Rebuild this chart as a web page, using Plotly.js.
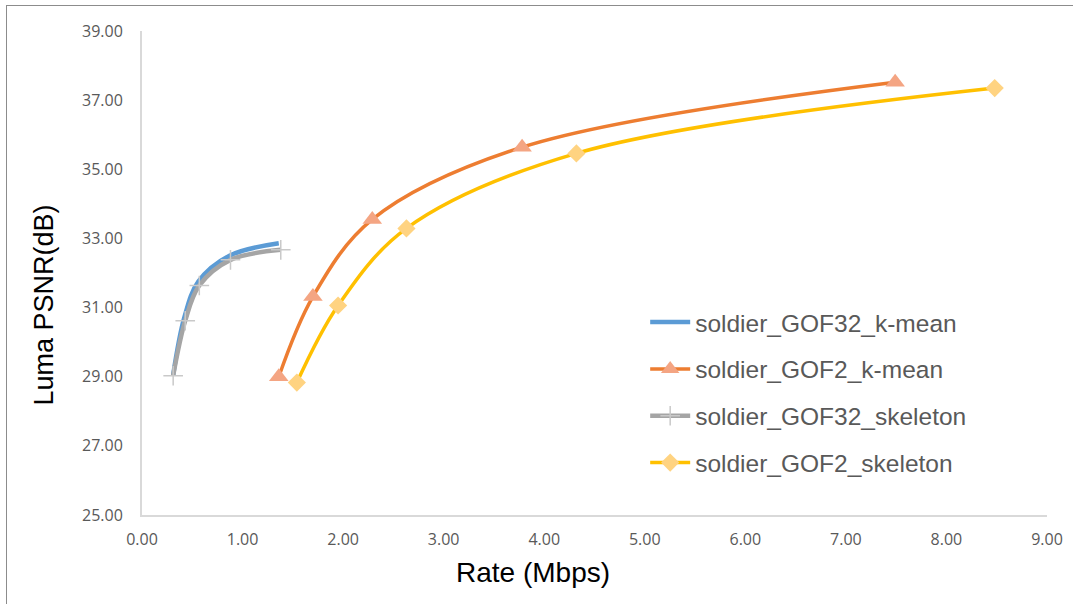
<!DOCTYPE html>
<html>
<head>
<meta charset="utf-8">
<script src="https://cdn.plot.ly/plotly-3.0.1.min.js"></script>
<style>
html,body{margin:0;padding:0;background:#fff;}
#wrap{position:relative;width:1073px;height:604px;overflow:hidden;}
#chart{position:absolute;left:0;top:0;width:1073px;height:604px;}
#frame{position:absolute;left:6px;top:5px;width:1100px;height:700px;border-left:1px solid #8c8c8c;border-top:1px solid #8c8c8c;pointer-events:none;}
</style>
</head>
<body>
<div id="wrap"><div id="chart"></div><div id="frame"></div></div>
<script>
// Series names
var seriesNames = ["soldier_GOF32_k-mean", "soldier_GOF2_k-mean", "soldier_GOF32_skeleton", "soldier_GOF2_skeleton"];

// Rate (Mbps)
var rateGOF32kmean = [0.31, 0.42, 0.56, 0.87, 1.36];
var rateGOF2kmean = [1.36, 1.70, 2.29, 3.78, 7.49];
var rateGOF32skel = [0.31, 0.43, 0.57, 0.88, 1.38];
var rateGOF2skel = [1.54, 1.95, 2.63, 4.32, 8.48];

// Luma PSNR (dB)
var psnrGOF32kmean = [29.05, 30.70, 31.75, 32.50, 32.86];
var psnrGOF2kmean = [29.00, 31.32, 33.55, 35.64, 37.52];
var psnrGOF32skel = [29.03, 30.62, 31.64, 32.38, 32.67];
var psnrGOF2skel = [28.83, 31.06, 33.29, 35.46, 37.35];

// Axis ticks and titles
var xTicks = [0,1,2,3,4,5,6,7,8,9];
var yTicks = [25,27,29,31,33,35,37,39];
var xTitle = "Rate (Mbps)";
var yTitle = "Luma PSNR(dB)";

var traces = [
  {x: rateGOF32kmean, y: psnrGOF32kmean, name: seriesNames[0], legendgroup: "a", mode: "lines",
   line: {color: "#5B9BD5", width: 4.5, shape: "spline", smoothing: 1}},
  {x: rateGOF2kmean, y: psnrGOF2kmean, name: seriesNames[1], legendgroup: "b", mode: "lines+markers",
   line: {color: "#ED7D31", width: 3.5, shape: "spline", smoothing: 1},
   marker: {symbol: "triangle-up", size: 17, color: "#F4A583"}},
  {x: rateGOF32skel, y: psnrGOF32skel, name: seriesNames[2], legendgroup: "c", mode: "lines+markers",
   line: {color: "#A5A5A5", width: 4.5, shape: "spline", smoothing: 1},
   marker: {symbol: "cross-thin", size: 14, line: {color: "#C9C9C9", width: 1.5}, color: "#C9C9C9"}},
  {x: rateGOF2skel, y: psnrGOF2skel, name: seriesNames[3], legendgroup: "d", mode: "lines+markers",
   line: {color: "#FFC000", width: 3.5, shape: "spline", smoothing: 1},
   marker: {symbol: "diamond", size: 14, color: "#FFD381"}}
];

var tickFont = {family: "Open Sans, DejaVu Sans, sans-serif", size: 16, color: "#595959"};
var titleFont = {family: "Liberation Sans, Arial, sans-serif", color: "#000000"};

var layout = {
  width: 1073, height: 604,
  margin: {l: 142, r: 26, t: 31, b: 89},
  paper_bgcolor: "#ffffff", plot_bgcolor: "#ffffff",
  showlegend: true,
  legend: {x: 0.556, y: 0.445, xanchor: "left", yanchor: "top",
    font: {family: "Liberation Sans, Arial, sans-serif", size: 24.5, color: "#595959"},
    traceorder: "grouped", tracegroupgap: 12, itemwidth: 40, bgcolor: "rgba(0,0,0,0)"},
  xaxis: {range: [0, 9], tickvals: xTicks, ticktext: xTicks.map(function(v){return v.toFixed(2);}),
    showgrid: false, zeroline: false, showline: true, linecolor: "#D9D9D9", linewidth: 2,
    ticks: "outside", ticklen: 9, tickcolor: "rgba(0,0,0,0)", tickfont: tickFont},
  yaxis: {range: [25, 39], tickvals: yTicks, ticktext: yTicks.map(function(v){return v.toFixed(2);}),
    showgrid: false, zeroline: false, showline: true, linecolor: "#D9D9D9", linewidth: 2,
    ticks: "outside", ticklen: 14, tickcolor: "rgba(0,0,0,0)", tickfont: tickFont},
  annotations: [
    {text: xTitle, xref: "paper", yref: "paper", x: (533 - 142) / 905, y: -(571 - 514) / 483,
     xanchor: "center", yanchor: "middle", showarrow: false,
     font: {family: titleFont.family, color: titleFont.color, size: 28}},
    {text: yTitle, xref: "paper", yref: "paper", x: -(142 - 44) / 905, y: (514 - 305) / 483,
     xanchor: "center", yanchor: "middle", showarrow: false, textangle: -90,
     font: {family: titleFont.family, color: titleFont.color, size: 27}}
  ]
};

Plotly.newPlot("chart", traces, layout, {displayModeBar: false, staticPlot: true});
</script>
</body>
</html>
